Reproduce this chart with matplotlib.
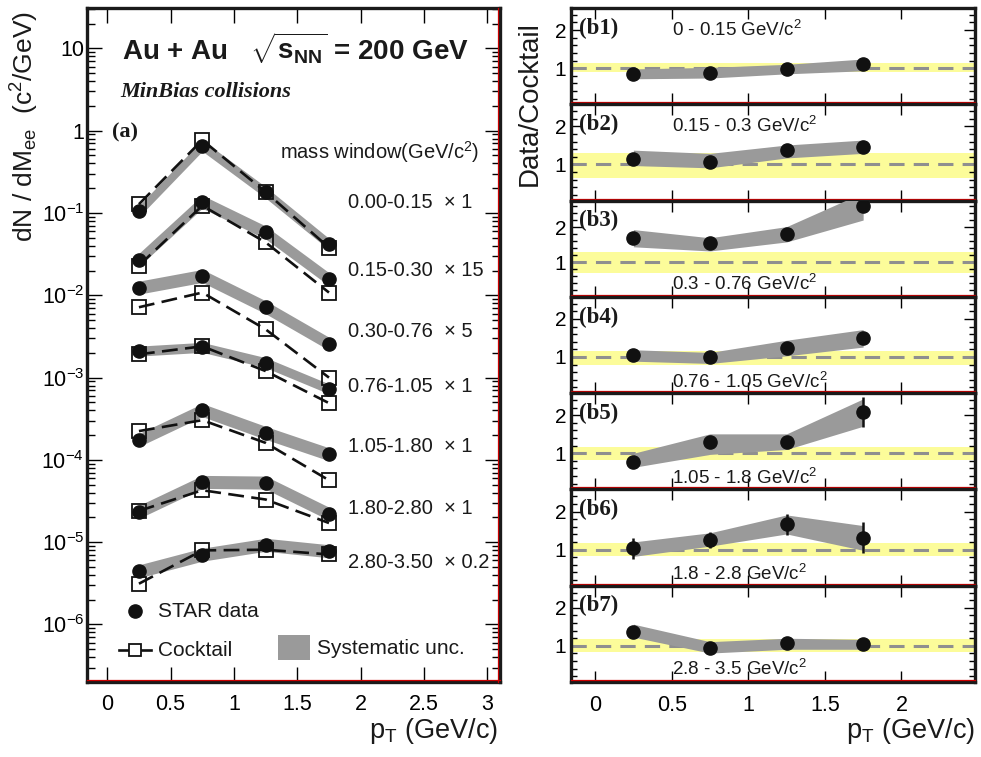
import math
import matplotlib
matplotlib.use("Agg")
import matplotlib.pyplot as plt
from matplotlib.ticker import FixedLocator, LogLocator, MultipleLocator, FuncFormatter, NullFormatter, NullLocator
from matplotlib.patches import Rectangle
from matplotlib.transforms import offset_copy

plt.rcParams["font.family"] = ["Liberation Sans", "DejaVu Sans"]
plt.rcParams["mathtext.fontset"] = "custom"
plt.rcParams["mathtext.rm"] = "Liberation Sans"
plt.rcParams["mathtext.it"] = "Liberation Sans:italic"
plt.rcParams["mathtext.bf"] = "Liberation Sans:bold"
plt.rcParams["mathtext.default"] = "regular"

# pT bin centres (GeV/c)
pt = [0.25, 0.75, 1.25, 1.75]

# (a) dN/dMee per mass window, already scaled
windows = ["0.00-0.15", "0.15-0.30", "0.30-0.76", "0.76-1.05", "1.05-1.80", "1.80-2.80", "2.80-3.50"]
scales = ["1", "15", "5", "1", "1", "1", "0.2"]
data_ee = [
    [0.105, 0.66, 0.178, 0.042],
    [0.027, 0.137, 0.058, 0.0157],
    [0.0124, 0.0172, 0.00716, 0.00258],
    [0.0021, 0.00233, 0.00152, 0.00073],
    [1.74e-4, 4.03e-4, 2.13e-4, 1.17e-4],
    [2.33e-5, 5.4e-5, 5.3e-5, 2.22e-5],
    [4.42e-6, 7.05e-6, 9.3e-6, 7.76e-6],
]
cocktail_ee = [
    [0.128, 0.77, 0.18, 0.038],
    [0.023, 0.123, 0.044, 0.0108],
    [0.00716, 0.0108, 0.00386, 0.001],
    [0.00192, 0.0024, 0.0012, 0.00049],
    [2.24e-4, 3.04e-4, 1.61e-4, 5.66e-5],
    [2.4e-5, 4.28e-5, 3.3e-5, 1.71e-5],
    [3.13e-6, 7.95e-6, 8.1e-6, 7.1e-6],
]
sys_rel = [0.17, 0.2, 0.2, 0.15, 0.2, 0.2, 0.2]
stat_rel = [0, 0, 0, 0, 0, 0.12, 0]

# (b1)-(b7) data / cocktail
panel_tags = ["(b1)", "(b2)", "(b3)", "(b4)", "(b5)", "(b6)", "(b7)"]
panel_ranges = ["0 - 0.15", "0.15 - 0.3", "0.3 - 0.76", "0.76 - 1.05", "1.05 - 1.8", "1.8 - 2.8", "2.8 - 3.5"]
ratio = [
    [0.85, 0.87, 0.99, 1.10],
    [1.15, 1.07, 1.375, 1.46],
    [1.69, 1.54, 1.81, 2.62],
    [1.06, 1.00, 1.23, 1.49],
    [0.78, 1.30, 1.30, 2.08],
    [1.03, 1.25, 1.66, 1.31],
    [1.37, 0.94, 1.07, 1.06],
]
ratio_lo = [
    [0.72, 0.74, 0.85, 0.93],
    [0.97, 0.91, 1.17, 1.29],
    [1.44, 1.32, 1.58, 2.21],
    [0.89, 0.83, 1.03, 1.26],
    [0.63, 0.97, 1.10, 1.71],
    [0.82, 1.09, 1.41, 0.98],
    [1.23, 0.81, 0.91, 0.91],
]
ratio_hi = [
    [0.98, 1.02, 1.10, 1.24],
    [1.375, 1.29, 1.51, 1.64],
    [1.935, 1.70, 2.02, 3.0],
    [1.19, 1.12, 1.44, 1.72],
    [1.0, 1.51, 1.51, 2.43],
    [1.2, 1.44, 1.91, 1.63],
    [1.57, 1.11, 1.20, 1.17],
]
ratio_stat = [
    [0, 0, 0, 0],
    [0, 0, 0, 0],
    [0, 0, 0, 0],
    [0, 0, 0, 0],
    [0, 0, 0, 0.39],
    [0.27, 0.2, 0.27, 0.41],
    [0, 0, 0, 0],
]
norm_lo = [0.91, 0.65, 0.70, 0.80, 0.83, 0.82, 0.84]
norm_hi = [1.13, 1.31, 1.28, 1.17, 1.17, 1.18, 1.17]

W, H = 981, 757
fig = plt.figure(figsize=(W / 100, H / 100), dpi=100)

GREY = "#9a9a9a"
YELLOW = "#fcfc9a"
INK = "#1a1a1a"


def frame(ax):
    for s in ax.spines.values():
        s.set_linewidth(2.4)
        s.set_color(INK)
    ax.tick_params(which="both", direction="in", top=True, right=True, width=1.0, labelsize=13.5)
    ax.tick_params(which="major", length=9)
    ax.tick_params(which="minor", length=4.5)


def red_edge(ax, right=False):
    tr = offset_copy(ax.transAxes, fig=fig, y=2.0, units="dots")
    ax.plot([0, 1], [0, 0], color="#cc0000", lw=0.9, transform=tr, clip_on=False, zorder=6)
    if right:
        tr2 = offset_copy(ax.transAxes, fig=fig, x=-2.0, units="dots")
        ax.plot([1, 1], [0, 1], color="#cc0000", lw=0.9, transform=tr2, clip_on=False, zorder=6)


def log_fmt(v, p):
    if v >= 10:
        return "10"
    if abs(v - 1) < 1e-9:
        return "1"
    return r"10$^{%d}$" % int(round(math.log10(v)))


# ---------------- left panel (a) ----------------
axL = fig.add_axes([87 / W, 75 / H, 413 / W, 674 / H])
axL.set_yscale("log")
for i in range(len(windows)):
    d = data_ee[i]
    f = sys_rel[i]
    axL.fill_between(pt, [v / (1 + f) for v in d], [v * (1 + f) for v in d],
                     color=GREY, lw=0, zorder=2)
    axL.plot(pt, cocktail_ee[i], color="#111111", lw=1.9, dashes=(6, 2.8), zorder=3)
    axL.plot(pt, cocktail_ee[i], ls="none", marker="s", ms=9.5, mfc="none",
             mec="#111111", mew=1.3, zorder=4)
    if stat_rel[i] > 0:
        axL.errorbar(pt, d, yerr=[v * stat_rel[i] for v in d], fmt="none",
                     ecolor="#111111", elinewidth=1.5, zorder=4)
    axL.plot(pt, d, ls="none", marker="o", ms=9.5, color="#111111", zorder=5)

axL.set_xlim(-0.16, 3.1)
axL.set_ylim(2e-7, 31)
axL.xaxis.set_major_locator(MultipleLocator(0.5))
axL.xaxis.set_major_formatter(FuncFormatter(lambda v, p: "%g" % v))
axL.yaxis.set_major_locator(LogLocator(base=10, numticks=20))
axL.yaxis.set_minor_locator(LogLocator(base=10, subs=[2, 3, 4, 5, 6, 7, 8, 9], numticks=20))
axL.yaxis.set_minor_formatter(NullFormatter())
axL.yaxis.set_major_formatter(FuncFormatter(log_fmt))
frame(axL)
axL.tick_params(axis="y", labelsize=15.5, pad=2)
axL.tick_params(axis="x", pad=9, labelsize=15.5)
axL.tick_params(which="major", length=11)
axL.tick_params(which="minor", length=5.5)
red_edge(axL, right=True)

axL.text(0.085, 0.94, r"Au + Au   $\mathbf{\sqrt{s_{NN}}}$ = 200 GeV", transform=axL.transAxes,
         fontsize=20, fontweight="bold", va="center", ha="left", color=INK)
axL.text(0.08, 0.875, "MinBias collisions", transform=axL.transAxes, fontsize=16,
         family="Liberation Serif", style="italic", fontweight="bold", va="center", color=INK)
axL.text(0.06, 0.816, "(a)", transform=axL.transAxes, fontsize=16,
         family="Liberation Serif", fontweight="bold", va="center", color=INK)
axL.text(1.365, 0.557, r"mass window(GeV/c$^2$)", fontsize=14.5, va="center", color=INK)
label_y = [0.133, 0.0198, 0.00363, 7.9e-4, 1.45e-4, 2.58e-5, 5.6e-6]
for i in range(len(windows)):
    axL.text(1.9, label_y[i], u"%s  \u00d7 %s" % (windows[i], scales[i]), fontsize=14.5,
             va="center", ha="left", color=INK)

# legend drawn by hand
axL.plot([0.116], [0.105], marker="o", ms=9.5, color="#111111", transform=axL.transAxes, clip_on=False)
axL.text(0.172, 0.105, "STAR data", transform=axL.transAxes, fontsize=15, va="center", color=INK)
axL.plot([0.078, 0.155], [0.047, 0.047], color="#111111", lw=1.9, transform=axL.transAxes)
axL.plot([0.116], [0.047], marker="s", ms=9, mfc="white", mec="#111111", mew=1.3,
         transform=axL.transAxes)
axL.text(0.172, 0.047, "Cocktail", transform=axL.transAxes, fontsize=15, va="center", color=INK)
axL.add_patch(Rectangle((0.462, 0.032), 0.078, 0.038, transform=axL.transAxes,
                        facecolor=GREY, edgecolor="none"))
axL.text(0.557, 0.049, "Systematic unc.", transform=axL.transAxes, fontsize=15, va="center",
         color=INK)

fig.text(25 / W, 1 - 126 / H, r"dN / dM$_{ee}$  (c$^2$/GeV)", rotation=90, fontsize=19,
         ha="center", va="center", color=INK)
fig.text(498 / W, 1 - 731 / H, r"p$_{T}$ (GeV/c)", fontsize=19.5, ha="right", va="center",
         color=INK)

# ---------------- right panels (b1)-(b7) ----------------
ph = 674 / 7
text_y = [2.0, 2.0, 0.38, 0.35, 0.36, 0.36, 0.40]
for i in range(7):
    top = 8 + i * ph
    ax = fig.add_axes([571 / W, 1 - (top + ph) / H, 404 / W, ph / H])
    ax.axhspan(norm_lo[i], norm_hi[i], color=YELLOW, lw=0, zorder=1)
    ax.axhline(1, color="#8f8f8f", lw=2.2, dashes=(5, 3), zorder=2)
    ax.fill_between(pt, ratio_lo[i], ratio_hi[i], color=GREY, lw=0, zorder=3)
    if any(ratio_stat[i]):
        ax.errorbar(pt, ratio[i], yerr=ratio_stat[i], fmt="none", ecolor="#111111",
                    elinewidth=1.8, zorder=4)
    ax.plot(pt, ratio[i], ls="none", marker="o", ms=9.5, color="#111111", zorder=5)
    ax.set_xlim(-0.157, 2.48)
    if i == 2:
        ax.set_ylim(0.0, 2.77)
    else:
        ax.set_ylim(0.05, 2.58)
    ax.yaxis.set_major_locator(FixedLocator([1, 2]))
    ax.yaxis.set_minor_locator(MultipleLocator(0.2))
    ax.xaxis.set_major_locator(MultipleLocator(0.5))
    ax.xaxis.set_minor_locator(NullLocator())
    ax.xaxis.set_major_formatter(FuncFormatter(lambda v, p: "%g" % v))
    frame(ax)
    ax.tick_params(axis="y", labelsize=15)
    ax.tick_params(which="major", length=8)
    ax.tick_params(which="minor", length=4)
    if i < 6:
        ax.tick_params(axis="x", labelbottom=False)
    else:
        ax.tick_params(axis="x", pad=9, labelsize=15.5)
    red_edge(ax)
    ax.text(0.02, 0.79, panel_tags[i], transform=ax.transAxes, fontsize=16.5,
            family="Liberation Serif", fontweight="bold", va="center", color=INK)
    ax.text(0.5, text_y[i], r"%s GeV/c$^2$" % panel_ranges[i], fontsize=13.5, va="center",
            ha="left", color=INK)

fig.text(530 / W, 1 - 104 / H, "Data/Cocktail", rotation=90, fontsize=20,
         ha="center", va="center", color=INK)
fig.text(975 / W, 1 - 731 / H, r"p$_{T}$ (GeV/c)", fontsize=19.5, ha="right", va="center",
         color=INK)

fig.savefig("out.png", dpi=100)
